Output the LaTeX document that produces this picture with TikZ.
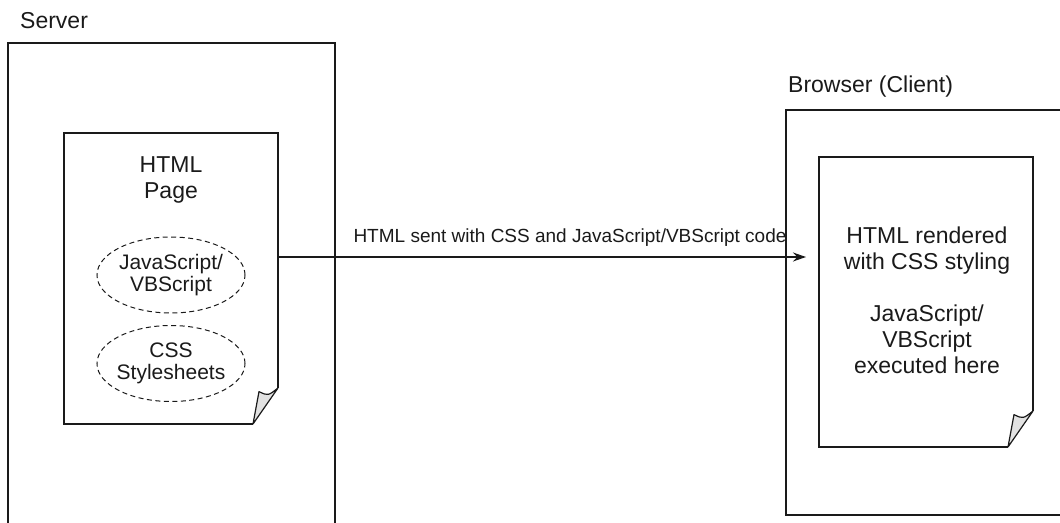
\documentclass[tikz,border=0pt]{standalone}
\usepackage{fontspec}
\setmainfont{Liberation Sans}
\usetikzlibrary{arrows.meta,shapes.geometric,calc}
\definecolor{ink}{HTML}{1A1A1A}
\definecolor{foldgray}{HTML}{E2E2E2}
\tikzset{
  box/.style={draw=ink, line width=1.2pt},
  pagebox/.style={inner sep=0pt, outer sep=0pt},
  big/.style={font=\fontsize{23}{26}\selectfont, text=ink, align=center, inner sep=0pt},
  small/.style={font=\fontsize{19}{23}\selectfont, text=ink, inner sep=0pt},
  bubble/.style={ellipse, draw=ink, line width=1pt, dash pattern=on 5pt off 3.5pt,
    minimum width=148pt, minimum height=76pt, inner ysep=0pt, inner xsep=-6pt, align=center,
    font=\fontsize{21}{22.5}\selectfont, text=ink},
  link/.style={draw=ink, line width=1.2pt, -{Stealth[length=13pt,width=9pt]}},
}
% folded-corner page outline: #1 = node name, #2 = fold size x, #3 = fold size y
% (y axis points down, so a negative y offset goes up)
\newcommand{\foldpage}[3]{%
  \draw[box, line join=miter] ($(#1.south east)+(0,-#3)$) -- (#1.north east) -- (#1.north west)
     -- (#1.south west) -- ($(#1.south east)+(-#2,0)$);
  \filldraw[fill=foldgray, draw=ink, line width=1.2pt, line join=round]
     ($(#1.south east)+(0,-#3)$) -- ($(#1.south east)+(-#2,0)$)
     -- ($(#1.south east)+(-#2*0.76,-#3*0.9)$)
     .. controls ($(#1.south east)+(-#2*0.4,-#3*0.78)$) .. ($(#1.south east)+(0,-#3)$) -- cycle;
}
\begin{document}
\begin{tikzpicture}[x=1pt,y=-1pt]
\useasboundingbox (0,0) rectangle (1060,522);
\clip (0,0) rectangle (1060,522);

% outer boxes (open at one edge because they run past the picture)
\node[pagebox, minimum width=327pt, minimum height=500pt, anchor=north west] (server) at (8,43) {};
\draw[box] (server.south west) -- (server.north west) -- (server.north east) -- (server.south east);
\node[big, anchor=base west] (serverlbl) at (20,28) {Server};

\node[pagebox, minimum width=300pt, minimum height=405pt, anchor=north west] (browser) at (786,110) {};
\draw[box] (browser.north east) -- (browser.north west) -- (browser.south west) -- (browser.south east);
\node[big, anchor=base west] (browserlbl) at (788,92) {Browser (Client)};

% inner pages
\node[pagebox, minimum width=214pt, minimum height=291pt, anchor=north west] (page1) at (64,133) {};
\foldpage{page1}{25}{36}
\node[big] (page1txt) at (171,180) {HTML\\Page};
\node[bubble] (js1) at (171,275) {JavaScript/\\VBScript};
\node[bubble] (css1) at (171,363.5) {CSS\\Stylesheets};

\node[pagebox, minimum width=214pt, minimum height=290pt, anchor=north west] (page2) at (819,157) {};
\foldpage{page2}{25}{36}
\node[big] (page2txt) at (927,300) {HTML rendered\\with CSS styling\\[26pt]JavaScript/\\VBScript\\executed here};

% connector
\coordinate (src) at (page1.east |- 0,257);
\draw[link, shorten >=13pt] (src) -- (page2.west |- src);
\node[small, anchor=base] (linklbl) at (570,242) {HTML sent with CSS and JavaScript/VBScript code};
\end{tikzpicture}
\end{document}
